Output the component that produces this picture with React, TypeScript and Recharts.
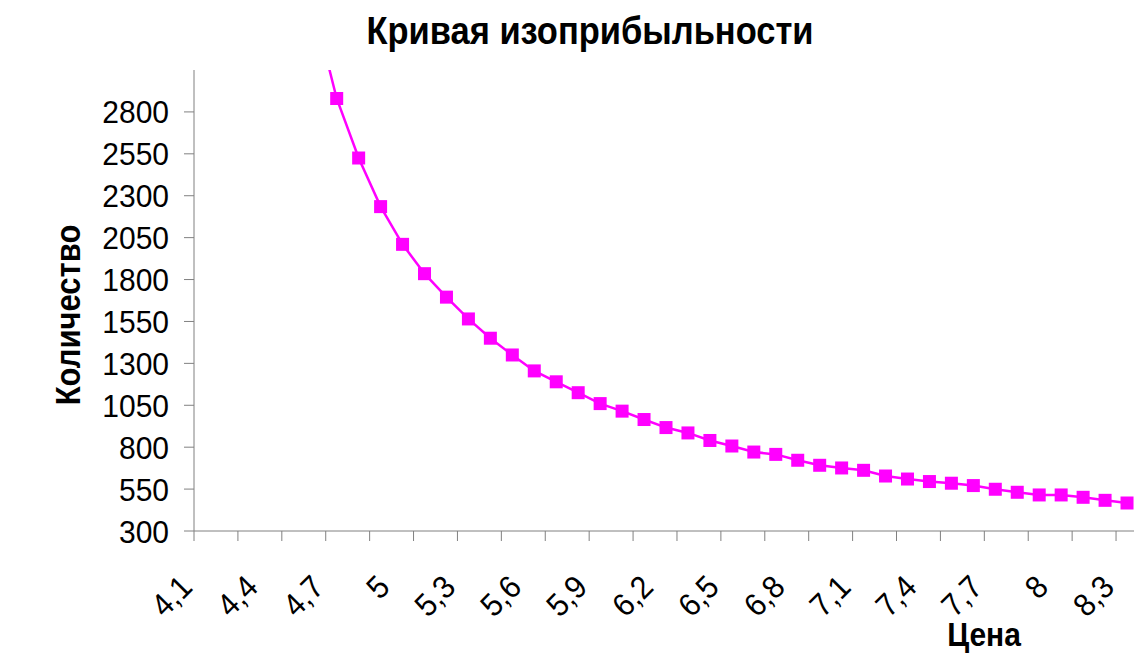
import { Line, LineChart, XAxis, YAxis } from "recharts";

const FONT = "'Liberation Sans', Arial, sans-serif";
const AXIS = "#808080";
const MAGENTA = "#FF00FF";

// цена (категории с шагом 0,1)
const prices = [
  4.1, 4.2, 4.3, 4.4, 4.5, 4.6, 4.7, 4.8, 4.9, 5.0, 5.1, 5.2, 5.3, 5.4, 5.5,
  5.6, 5.7, 5.8, 5.9, 6.0, 6.1, 6.2, 6.3, 6.4, 6.5, 6.6, 6.7, 6.8, 6.9, 7.0,
  7.1, 7.2, 7.3, 7.4, 7.5, 7.6, 7.7, 7.8, 7.9, 8.0, 8.1, 8.2, 8.3,
];

// количество (до 4,6 — за пределами оси)
const quantities = [
  null, null, null, null, null, 3400, 2880, 2525, 2235, 2010, 1835, 1695, 1565,
  1450, 1350, 1255, 1190, 1125, 1060, 1015, 965, 917, 885, 840, 807, 771, 757,
  722, 692, 676, 662, 628, 610, 595, 585, 571, 549, 531, 515, 515, 501, 483, 467,
];

const priceLabelTicks = [4.1, 4.4, 4.7, 5.0, 5.3, 5.6, 5.9, 6.2, 6.5, 6.8, 7.1, 7.4, 7.7, 8.0, 8.3];
const priceLabels = ["4,1", "4,4", "4,7", "5", "5,3", "5,6", "5,9", "6,2", "6,5", "6,8", "7,1", "7,4", "7,7", "8", "8,3"];

// засечки между категориями, через две
const priceGapTicks = [
  4.05, 4.25, 4.45, 4.65, 4.85, 5.05, 5.25, 5.45, 5.65, 5.85, 6.05, 6.25, 6.45,
  6.65, 6.85, 7.05, 7.25, 7.45, 7.65, 7.85, 8.05, 8.25,
];

const quantityTicks = [300, 550, 800, 1050, 1300, 1550, 1800, 2050, 2300, 2550, 2800];

const data = prices.map((price, i) => ({ price, quantity: quantities[i] }));
const xTicks = [...priceGapTicks, ...priceLabelTicks].sort((a, b) => a - b);

const PriceTick = (props: any) => {
  const { x, y, payload } = props;
  const idx = priceLabelTicks.indexOf(payload.value);
  if (idx < 0) {
    return <line x1={x} y1={y} x2={x} y2={y + 10} stroke={AXIS} strokeWidth={1} />;
  }
  const ax = x - 11;
  const ay = y + 58;
  return (
    <text
      transform={`translate(${ax} ${ay}) rotate(-45) scale(1 1.07)`}
      textAnchor="end"
      fontSize={30}
      fontFamily={FONT}
      fill="#000"
    >
      {priceLabels[idx]}
    </text>
  );
};

const QuantityTick = (props: any) => {
  const { x, y, payload } = props;
  return (
    <text
      transform={`translate(${x} ${y}) scale(1 1.07)`}
      dy="0.36em"
      textAnchor="end"
      fontSize={30}
      fontFamily={FONT}
      fill="#000"
    >
      {payload.value}
    </text>
  );
};

const SquareDot = (props: any) => {
  const { cx, cy, index } = props;
  if (cx == null || cy == null) return <g key={index} />;
  return <rect key={index} x={cx - 6.5} y={cy - 6.5} width={13} height={13} fill={MAGENTA} />;
};

export default function App() {
  return (
    <div
      style={{
        position: "absolute",
        left: 0,
        top: 0,
        width: 1134,
        height: 659,
        overflow: "hidden",
        background: "#fff",
      }}
    >
      <LineChart
        width={1140}
        height={659}
        data={data}
        margin={{ top: 70, right: 2, bottom: 0, left: 0 }}
      >
        <XAxis
          type="number"
          dataKey="price"
          domain={[4.05, 8.35]}
          allowDataOverflow
          ticks={xTicks}
          interval={0}
          tickSize={0}
          tickMargin={0}
          tickLine={false}
          tick={PriceTick}
          height={128}
          stroke={AXIS}
        />
        <YAxis
          type="number"
          domain={[300, 3050]}
          allowDataOverflow
          ticks={quantityTicks}
          interval={0}
          width={194}
          tickSize={10}
          tickMargin={15}
          stroke={AXIS}
          tick={QuantityTick}
        />
        <Line
          type="linear"
          dataKey="quantity"
          stroke={MAGENTA}
          strokeWidth={2.5}
          dot={SquareDot}
          activeDot={false}
          isAnimationActive={false}
        />
      </LineChart>
      <svg
        width={1134}
        height={659}
        style={{ position: "absolute", left: 0, top: 0, pointerEvents: "none" }}
      >
        <text
          transform="translate(590 44) scale(1 1.15)"
          textAnchor="middle"
          fontSize={34.5}
          fontWeight="bold"
          fontFamily={FONT}
          fill="#000"
        >
          Кривая изоприбыльности
        </text>
        <text
          transform="translate(80 315) rotate(-90) scale(1 1.12)"
          textAnchor="middle"
          fontSize={31}
          fontWeight="bold"
          fontFamily={FONT}
          fill="#000"
        >
          Количество
        </text>
        <text
          transform="translate(984 646) scale(1 1.1)"
          textAnchor="middle"
          fontSize={30}
          fontWeight="bold"
          fontFamily={FONT}
          fill="#000"
        >
          Цена
        </text>
      </svg>
    </div>
  );
}
